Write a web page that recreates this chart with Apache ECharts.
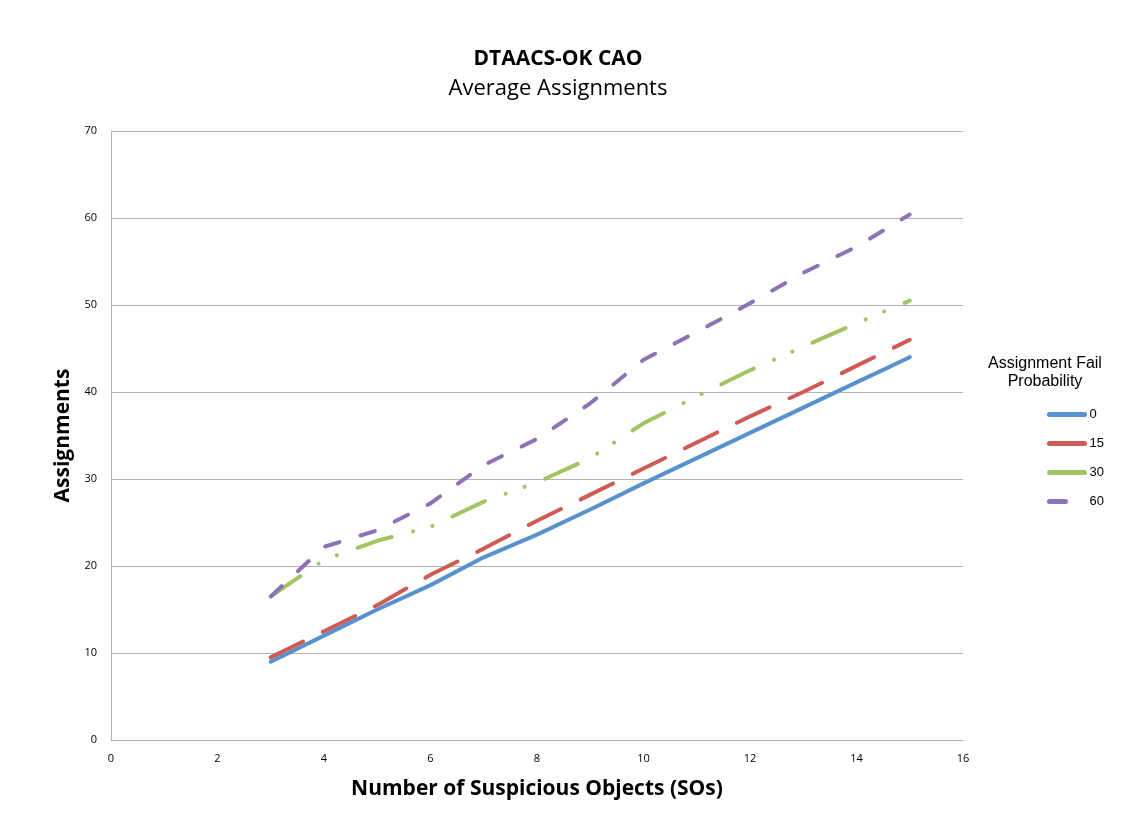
<!DOCTYPE html>
<html>
<head>
<meta charset="utf-8">
<script src="https://cdn.jsdelivr.net/npm/echarts@6/dist/echarts.min.js"></script>
<style>
  html, body { margin: 0; padding: 0; background: #fff; }
  #chart { width: 1133px; height: 827px; }
</style>
</head>
<body>
<div id="chart"></div>
<script>
// number of suspicious objects
const sos = [3, 4, 5, 6, 7, 8, 9, 10, 11, 12, 13, 14, 15];
// average assignments per fail probability
const fail0 = [9, 12, 15, 17.8, 21, 23.6, 26.5, 29.5, 32.4, 35.3, 38.2, 41.1, 44];
const fail15 = [9.5, 12.5, 15.5, 19, 22, 25.2, 28.2, 31.2, 34.2, 37.2, 40, 43, 46];
const fail30 = [16.5, 20.7, 22.9, 24.5, 27.4, 29.6, 32.4, 36.4, 39.5, 42.5, 45.2, 47.9, 50.5];
const fail60 = [16.5, 22.2, 24.1, 27.2, 31.6, 34.6, 38.7, 43.7, 46.9, 50.2, 53.7, 56.7, 60.4];
const seriesNames = ["0", "15", "30", "60"];

const pairs = vals => sos.map((x, i) => [x, vals[i]]);

const chart = echarts.init(document.getElementById("chart"));

function lineSeries(name, vals, color, dash) {
  return {
    name: name,
    type: "line",
    data: pairs(vals),
    symbol: "none",
    smooth: false,
    lineStyle: { color: color, width: 4, type: dash, cap: "round", join: "round" },
    itemStyle: { color: color }
  };
}

chart.setOption({
  animation: false,
  backgroundColor: "#fff",
  title: [
    {
      text: "DTAACS-OK CAO",
      subtext: "Average Assignments",
      left: 553,
      textAlign: "center",
      top: 44,
      itemGap: 8,
      textStyle: { fontFamily: "Open Sans", fontWeight: "bold", fontSize: 21, color: "#000" },
      subtextStyle: { fontFamily: "Open Sans", fontSize: 22, color: "#000" }
    },
    {
      text: "Assignment Fail\nProbability",
      left: 1040,
      textAlign: "center",
      top: 350,
      textStyle: { fontFamily: "Liberation Sans", fontWeight: "normal", fontSize: 16, lineHeight: 18, color: "#000" }
    }
  ],
  legend: {
    orient: "vertical",
    left: 1047,
    top: 408,
    padding: 0,
    itemWidth: 35,
    itemHeight: 4,
    itemGap: 16,
    data: [
      { name: seriesNames[0] },
      { name: seriesNames[1], lineStyle: { type: "solid" } },
      { name: seriesNames[2], lineStyle: { type: "solid" } },
      { name: seriesNames[3], lineStyle: { type: [16, 40] } }
    ],
    itemStyle: { opacity: 0 },
    lineStyle: { width: 5, cap: "round" },
    textStyle: { fontFamily: "Liberation Sans", fontSize: 13, color: "#000" }
  },
  grid: { left: 111, right: 170, top: 131, bottom: 87, containLabel: false },
  xAxis: {
    type: "value",
    min: 0,
    max: 16,
    interval: 2,
    name: "Number of Suspicious Objects (SOs)",
    nameLocation: "middle",
    nameGap: 39,
    nameTextStyle: { fontFamily: "Open Sans", fontWeight: "bold", fontSize: 21, color: "#000" },
    axisLine: { lineStyle: { color: "#b3b3b3", width: 1 } },
    axisTick: { show: false },
    splitLine: { show: false },
    axisLabel: { fontFamily: "Open Sans", fontSize: 11, color: "#000", margin: 13 }
  },
  yAxis: {
    type: "value",
    min: 0,
    max: 70,
    interval: 10,
    name: "Assignments",
    nameLocation: "middle",
    nameGap: 29,
    nameTextStyle: { fontFamily: "Open Sans", fontWeight: "bold", fontSize: 21, color: "#000" },
    axisLine: { show: true, lineStyle: { color: "#b3b3b3", width: 1 } },
    axisTick: { show: false },
    splitLine: { lineStyle: { color: "#b3b3b3", width: 1 } },
    axisLabel: { fontFamily: "Open Sans", fontSize: 11, color: "#000", margin: 14 }
  },
  series: [
    lineSeries(seriesNames[0], fail0, "#5792cf", "solid"),
    lineSeries(seriesNames[1], fail15, "#cf5b55", [36, 22]),
    lineSeries(seriesNames[2], fail30, "#a2c462", [36, 22, 0.1, 20, 0.1, 22]),
    lineSeries(seriesNames[3], fail60, "#8d72b5", [15, 22])
  ]
});
</script>
</body>
</html>
